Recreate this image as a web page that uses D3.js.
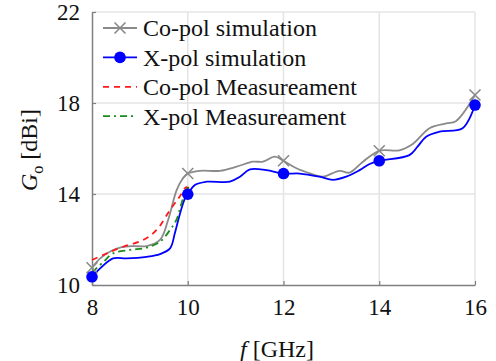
<!DOCTYPE html>
<html>
<head>
<meta charset="utf-8">
<script src="https://cdn.jsdelivr.net/npm/d3@7"></script>
<style>
  body { margin: 0; background: #fff; }
  text { font-family: "Liberation Serif", "Times New Roman", serif; fill: #111; }
</style>
</head>
<body>
<div class="graph"></div>
<script>
// tick values
var xTicks = [8, 10, 12, 14, 16];
var yTicks = [10, 14, 18, 22];

// Co-pol simulation
var coSimF = [8, 8.17, 8.38, 8.62, 8.86, 9.14, 9.42, 9.59, 9.77, 9.9, 10, 10.25, 10.67, 11.02, 11.36, 11.57, 11.82, 12, 12.27, 12.55, 12.82, 13.17, 13.38, 13.66, 14, 14.42, 14.7, 15.05, 15.4, 15.6, 16];
var coSimG = [10.76, 11.17, 11.47, 11.66, 11.71, 11.71, 11.98, 12.86, 14.18, 14.69, 14.9, 15.02, 15.02, 15.2, 15.42, 15.42, 15.64, 15.46, 15.13, 14.91, 14.76, 15.02, 14.94, 15.42, 15.9, 15.92, 16.2, 16.89, 17.1, 17.2, 18.35];

// X-pol simulation
var xSimF = [8, 8.17, 8.44, 8.72, 9.14, 9.42, 9.63, 9.73, 9.83, 9.94, 10, 10.15, 10.39, 10.88, 11.09, 11.3, 11.64, 12, 12.34, 12.75, 13.03, 13.31, 13.59, 13.8, 14, 14.63, 14.8, 14.98, 15.26, 15.74, 16];
var xSimG = [10.36, 10.73, 11.17, 11.17, 11.24, 11.36, 11.61, 12.27, 13.08, 13.8, 13.99, 14.4, 14.54, 14.54, 14.76, 15.08, 15.05, 14.9, 14.9, 14.76, 14.62, 14.76, 15.05, 15.32, 15.46, 15.71, 16.08, 16.52, 16.74, 16.89, 17.91];

// Co-pol measurement
var coMeasF = [8, 8.31, 8.65, 9.07, 9.35, 9.63, 9.83, 9.97, 10.05];
var coMeasG = [11.1, 11.39, 11.68, 11.98, 12.42, 13.3, 13.88, 14.3, 14.2];

// X-pol measurement
var xMeasF = [8, 8.24, 8.44, 8.79, 9.14, 9.42, 9.63, 9.77, 9.87, 9.97, 10.02];
var xMeasG = [10.55, 11.02, 11.39, 11.54, 11.64, 11.9, 12.42, 12.9, 13.59, 14.2, 14.3];

var markerF = [8, 10, 12, 14, 16];

var width = 496, height = 361;
var margin = { top: 12, right: 21, bottom: 76, left: 92 };

var svg = d3.select(".graph").append("svg")
    .attr("width", width)
    .attr("height", height);

var x = d3.scaleLinear().domain([8, 16]).range([margin.left, width - margin.right]);
var y = d3.scaleLinear().domain([10, 22]).range([height - margin.bottom, margin.top]);

// grid
svg.append("g").selectAll("line")
    .data(xTicks.slice(1))
    .enter().append("line")
    .attr("x1", d => x(d)).attr("x2", d => x(d))
    .attr("y1", y(10)).attr("y2", y(22))
    .style("stroke", "#e4e4e4").style("stroke-width", 1.5);
svg.append("g").selectAll("line")
    .data(yTicks.slice(1))
    .enter().append("line")
    .attr("x1", x(8)).attr("x2", x(16))
    .attr("y1", d => y(d)).attr("y2", d => y(d))
    .style("stroke", "#e4e4e4").style("stroke-width", 1.5);

// axes
var xAxis = svg.append("g")
    .attr("transform", "translate(0," + y(10) + ")")
    .call(d3.axisBottom(x).tickValues(xTicks).tickSizeInner(-4).tickSizeOuter(0).tickPadding(14));
var yAxis = svg.append("g")
    .attr("transform", "translate(" + x(8) + ",0)")
    .call(d3.axisLeft(y).tickValues(yTicks).tickSizeInner(-4).tickSizeOuter(0).tickPadding(12));

[xAxis, yAxis].forEach(function (a) {
    a.select(".domain").style("stroke", "#808080").style("stroke-width", 1.5);
    a.selectAll(".tick line").style("stroke", "#808080").style("stroke-width", 1.2);
    a.selectAll("text").style("font-family", "Liberation Serif").style("font-size", "23px").style("fill", "#111");
});

// lines
var line = d3.line().x(d => x(d[0])).y(d => y(d[1])).curve(d3.curveCatmullRom.alpha(0.5));

function zip(f, g) {
    return f.map((v, i) => [v, g[i]]);
}

var series = [
    { name: "Co-pol simulation", data: zip(coSimF, coSimG), color: "#8a8a8a", dash: null, marker: "x" },
    { name: "X-pol simulation", data: zip(xSimF, xSimG), color: "#0000ff", dash: null, marker: "o" },
    { name: "Co-pol Measureament", data: zip(coMeasF, coMeasG), color: "#ff1a1a", dash: "6,5", marker: null },
    { name: "X-pol Measureament", data: zip(xMeasF, xMeasG), color: "#1a8c1a", dash: "7,4,2,4", marker: null }
];

series.forEach(function (s) {
    svg.append("path")
        .attr("d", line(s.data))
        .style("fill", "none")
        .style("stroke", s.color)
        .style("stroke-width", 1.8)
        .style("stroke-dasharray", s.dash);
});

function drawMarker(g, type, color, cx, cy) {
    if (type == "x") {
        var r = 5.5;
        g.append("path")
            .attr("d", "M" + (cx - r) + "," + (cy - r) + "L" + (cx + r) + "," + (cy + r) +
                "M" + (cx - r) + "," + (cy + r) + "L" + (cx + r) + "," + (cy - r))
            .style("stroke", color).style("stroke-width", 1.6).style("fill", "none");
    } else if (type == "o") {
        g.append("circle").attr("cx", cx).attr("cy", cy).attr("r", 5.8).style("fill", color);
    }
}

series.forEach(function (s) {
    if (!s.marker) return;
    s.data.filter(d => markerF.indexOf(d[0]) >= 0).forEach(function (d) {
        drawMarker(svg, s.marker, s.color, x(d[0]), y(d[1]));
    });
});

// legend
var legend = svg.append("g");
series.forEach(function (s, i) {
    var ly = 28 + i * 29.4;
    legend.append("line")
        .attr("x1", 103).attr("x2", 137)
        .attr("y1", ly).attr("y2", ly)
        .style("stroke", s.color).style("stroke-width", 1.8)
        .style("stroke-dasharray", s.dash);
    drawMarker(legend, s.marker, s.color, 120, ly);
    legend.append("text")
        .attr("x", 143).attr("y", ly)
        .attr("dy", "0.35em")
        .style("font-size", "24px")
        .text(s.name);
});

// axis labels
var yl = svg.append("text")
    .attr("transform", "translate(37,150) rotate(-90)")
    .style("text-anchor", "middle")
    .style("font-size", "24px");
yl.append("tspan").style("font-style", "italic").text("G");
yl.append("tspan").attr("dy", 6).style("font-size", "16px").text("o");
yl.append("tspan").attr("dy", -6).text(" [dBi]");

var xl = svg.append("text")
    .attr("x", 277).attr("y", 357)
    .style("text-anchor", "middle")
    .style("font-size", "24px");
xl.append("tspan").style("font-style", "italic").text("f");
xl.append("tspan").text(" [GHz]");
</script>
</body>
</html>
